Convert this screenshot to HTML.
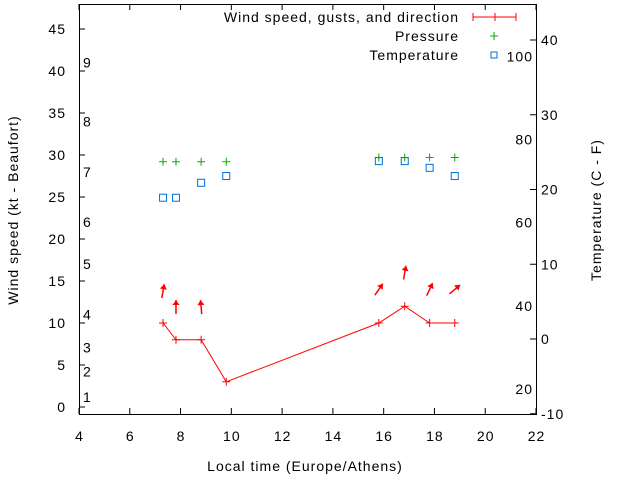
<!DOCTYPE html>
<html><head><meta charset="utf-8"><style>
body{margin:0;background:#fff}
svg{display:block;font-family:"Liberation Sans",sans-serif;font-size:14px}
text{letter-spacing:1px}
</style></head><body>
<svg id="c" width="640" height="480">
<rect x="0" y="0" width="640" height="480" fill="#fff"/>
</svg>
<script>
const times=[7.31,7.82,8.81,9.80,15.81,16.83,17.81,18.80];
const wind=[10,8,8,3,10,12,10,10];
const gust=[13.8,11.9,11.9,null,14,16,14,14];
const dirs=[10,0,-5,null,35,10,25,50];
const pressure=[29.2,29.2,29.2,29.2,29.7,29.7,29.7,29.7];
const temp=[18.9,18.9,20.9,21.8,23.8,23.8,22.9,21.8];
const xTicks=[4,6,8,10,12,14,16,18,20,22];
const yTicks=[0,5,10,15,20,25,30,35,40,45];
const y2Ticks=[-10,0,10,20,30,40];
const fTicks=[20,40,60,80,100];
const bfLabels=["1","2","3","4","5","6","7","8","9"];
const bfKt=[1.2,4.2,7.1,11,17,22,28,34,41];

const L=79,R=536,T=4,B=414;
const X=t=>L+(t-4)*(R-L)/18;
const Y=v=>407-v*8.4;
const Y2=c=>339-c*7.475;
const svg=document.getElementById('c');
const NS='http://www.w3.org/2000/svg';
function mk(tag,attrs,txt){const e=document.createElementNS(NS,tag);for(const k in attrs)e.setAttribute(k,attrs[k]);if(txt!==undefined)e.textContent=txt;svg.appendChild(e);return e;}

let e=mk('rect',{x:L+0.5,y:T+0.5,width:R-L,height:B-T,fill:'none',stroke:'#000','stroke-width':1});



xTicks.forEach(t=>{const x=X(t);
 mk('line',{x1:x,y1:B,x2:x,y2:B-6,stroke:'#000'});mk('line',{x1:x,y1:T,x2:x,y2:T+6,stroke:'#000'});
 e=mk('text',{x:x+0.5,y:B+27,'text-anchor':'middle'},t);
 
 
});
yTicks.forEach(v=>{const y=Y(v);
 mk('line',{x1:L,y1:y,x2:L+6,y2:y,stroke:'#000'});
 e=mk('text',{x:L-13,y:y+5,'text-anchor':'end'},v);
 
 
});
y2Ticks.forEach(v=>{const y=Y2(v);
 mk('line',{x1:R,y1:y,x2:R-6,y2:y,stroke:'#000'});
 e=mk('text',{x:R+5,y:y+5,'text-anchor':'start'},v);
 
 
});
fTicks.forEach(f=>{const y=Y2((f-32)*5/9);
 e=mk('text',{x:533,y:y+5,'text-anchor':'end'},f);
 
 
});
bfLabels.forEach((b,i)=>{
 e=mk('text',{x:83,y:Y(bfKt[i])+5},b);
 
 
});

e=mk('text',{x:305,y:471,'text-anchor':'middle'},'Local time (Europe/Athens)');


e=mk('text',{x:0,y:0,'text-anchor':'middle',transform:'translate(18,210) rotate(-90)'},'Wind speed (kt - Beaufort)');


e=mk('text',{x:0,y:0,'text-anchor':'middle',transform:'translate(601,210) rotate(-90)'},'Temperature (C - F)');



const pts=times.map((t,i)=>X(t)+','+Y(wind[i])).join(' ');
e=mk('polyline',{points:pts,fill:'none',stroke:'#f00','stroke-width':1});


times.forEach((t,i)=>{const x=X(t),y=Y(wind[i]);
 e=mk('path',{d:`M${x-4},${y}h8M${x},${y-4}v8`,stroke:'#f00'});
 
 
 if(gust[i]!==null){const a=dirs[i]*Math.PI/180,cx=x,cy=Y(gust[i]),l=7;
  const dx=Math.sin(a)*l,dy=-Math.cos(a)*l;
  e=mk('g',{});
  
  
  const l1=document.createElementNS(NS,'line');
  [['x1',cx-dx],['y1',cy-dy],['x2',cx+dx],['y2',cy+dy],['stroke','#f00'],['stroke-width',1.5]].forEach(p=>l1.setAttribute(p[0],p[1]));
  e.appendChild(l1);
  const hx=cx+dx,hy=cy+dy,ux=Math.sin(a),uy=-Math.cos(a),px=-uy,py=ux;
  const tri=document.createElementNS(NS,'polygon');
  tri.setAttribute('points',`${hx},${hy} ${hx-ux*5+px*3.5},${hy-uy*5+py*3.5} ${hx-ux*5-px*3.5},${hy-uy*5-py*3.5}`);
  tri.setAttribute('fill','#f00');
  e.appendChild(tri);
 }
});
times.forEach((t,i)=>{const x=X(t),y=Y(pressure[i]);
 e=mk('path',{d:`M${x-4},${y}h8M${x},${y-4}v8`,stroke:'#00b000'});
 
 
});
times.forEach((t,i)=>{const x=X(t),y=Y2(temp[i]);
 e=mk('rect',{x:x-3.5,y:y-3.5,width:7,height:7,fill:'none',stroke:'#0070e0'});
 
 
});
const leg=[['Wind speed, gusts, and direction',17],['Pressure',36],['Temperature',55]];
leg.forEach((l,i)=>{
 e=mk('text',{x:459,y:l[1]+5,'text-anchor':'end'},l[0]);
 
 
});
mk('path',{d:'M473,17h43M473,13v8M516,13v8M495,13v8',stroke:'#f00'});
mk('path',{d:'M490,36h8M494,32v8',stroke:'#00b000'});
mk('rect',{x:491,y:52,width:6,height:6,fill:'none',stroke:'#0070e0'});
</script>
</body></html>
